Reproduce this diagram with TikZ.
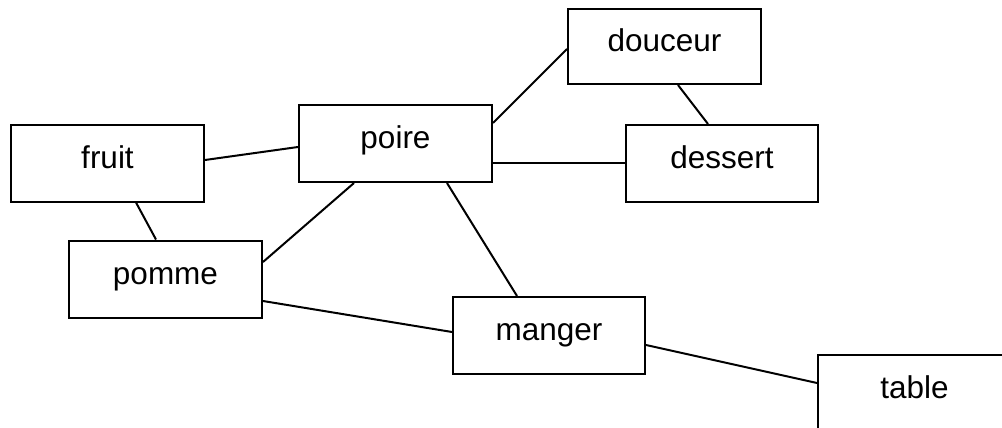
\documentclass[tikz,border=0pt]{standalone}
\usepackage{fontspec}
\setmainfont{Liberation Sans}
\usetikzlibrary{calc}
\begin{document}
\begin{tikzpicture}[x=1pt,y=-1pt,
  box/.style={draw,line width=2pt,minimum width=193pt,minimum height=77pt,inner sep=0pt,
    text height=10pt,text depth=0pt,font=\fontsize{31.5}{36}\selectfont},
  link/.style={line width=2pt}]
\useasboundingbox (0,0) rectangle (1002,428);
\node[box,minimum height=75pt] (douceur) at (664.5,46.5) {douceur};
\node[box] (poire) at (395.5,143.5) {poire};
\node[box] (fruit) at (107.5,163) {fruit};
\node[box,minimum width=192pt] (dessert) at (722,163.5) {dessert};
\node[box] (pomme) at (165.5,279) {pomme};
\node[box,minimum width=192pt] (manger) at (549,335.5) {manger};
\node[box] (table) at (914.5,393.5) {table};
\draw[link] ($(fruit.east)+(0,-3)$) -- ($(poire.west)+(0,3.5)$);
\draw[link] ($(fruit.south)+(28.5,0)$) -- ($(pomme.north)+(-9.5,0)$);
\draw[link] ($(poire.south)+(-41.5,0)$) -- ($(pomme.east)+(0,-17)$);
\draw[link] ($(poire.south)+(51.5,0)$) -- ($(manger.north)+(-32,0)$);
\draw[link] ($(poire.east)+(0,-20.5)$) -- ($(douceur.west)+(0,2.5)$);
\draw[link] ($(poire.east)+(0,19.5)$) -- ($(dessert.west)+(0,-0.5)$);
\draw[link] ($(douceur.south)+(13.5,0)$) -- ($(dessert.north)+(-14,0)$);
\draw[link] ($(pomme.east)+(0,22)$) -- ($(manger.west)+(0,-3.5)$);
\draw[link] ($(manger.east)+(0,9.5)$) -- ($(table.west)+(0,-10.5)$);
\end{tikzpicture}
\end{document}
